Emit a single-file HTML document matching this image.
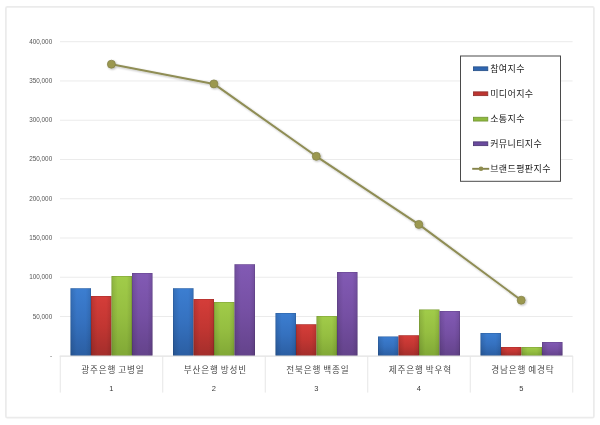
<!DOCTYPE html>
<html lang="ko"><head><meta charset="utf-8"><title>chart</title>
<style>
html,body{margin:0;padding:0;background:#fff;}
body{width:600px;height:425px;overflow:hidden;}
svg{display:block;}
text{font-family:"Liberation Sans","Noto Sans CJK KR","NanumGothic",sans-serif;}
.yl{font-size:7px;fill:#555;text-anchor:end;}
.cat{font-size:8.6px;fill:#484848;text-anchor:middle;letter-spacing:0.85px;word-spacing:-1.4px;}
.num{font-size:7.5px;fill:#3a3a3a;text-anchor:middle;}
.lg{font-size:9px;fill:#222;letter-spacing:0.38px;}
</style></head><body>
<svg width="600" height="425" viewBox="0 0 600 425">
<defs>
<linearGradient id="b" x1="0" x2="0" y1="0" y2="1"><stop offset="0" stop-color="#3c7ed1"/><stop offset="0.5" stop-color="#3571bf"/><stop offset="1" stop-color="#2b5ea2"/></linearGradient>
<linearGradient id="r" x1="0" x2="0" y1="0" y2="1"><stop offset="0" stop-color="#d53d39"/><stop offset="0.5" stop-color="#c23632"/><stop offset="1" stop-color="#a32e2b"/></linearGradient>
<linearGradient id="g" x1="0" x2="0" y1="0" y2="1"><stop offset="0" stop-color="#a1cc49"/><stop offset="0.5" stop-color="#95be41"/><stop offset="1" stop-color="#81a836"/></linearGradient>
<linearGradient id="p" x1="0" x2="0" y1="0" y2="1"><stop offset="0" stop-color="#825ab4"/><stop offset="0.5" stop-color="#7650a4"/><stop offset="1" stop-color="#64438b"/></linearGradient>
<linearGradient id="edge" x1="0" x2="1" y1="0" y2="0"><stop offset="0" stop-color="#000" stop-opacity="0.12"/><stop offset="0.3" stop-color="#000" stop-opacity="0"/><stop offset="0.75" stop-color="#000" stop-opacity="0"/><stop offset="1" stop-color="#000" stop-opacity="0.10"/></linearGradient>
<filter id="sh" x="-10%" y="-10%" width="120%" height="130%"><feGaussianBlur in="SourceAlpha" stdDeviation="1.2"/><feOffset dx="0.8" dy="1.2"/><feComponentTransfer><feFuncA type="linear" slope="0.28"/></feComponentTransfer><feMerge><feMergeNode/><feMergeNode in="SourceGraphic"/></feMerge></filter>
</defs>
<rect x="0" y="0" width="600" height="425" fill="#fff"/>
<rect x="5.9" y="6.8" width="588" height="410.9" rx="1.5" fill="#fff" stroke="#ebebeb" stroke-width="1.7"/>

<line x1="60" x2="572.6" y1="41.70" y2="41.70" stroke="#ebebeb" stroke-width="1"/>
<line x1="60" x2="572.6" y1="80.96" y2="80.96" stroke="#ebebeb" stroke-width="1"/>
<line x1="60" x2="572.6" y1="120.22" y2="120.22" stroke="#ebebeb" stroke-width="1"/>
<line x1="60" x2="572.6" y1="159.48" y2="159.48" stroke="#ebebeb" stroke-width="1"/>
<line x1="60" x2="572.6" y1="198.74" y2="198.74" stroke="#ebebeb" stroke-width="1"/>
<line x1="60" x2="572.6" y1="238.00" y2="238.00" stroke="#ebebeb" stroke-width="1"/>
<line x1="60" x2="572.6" y1="277.26" y2="277.26" stroke="#ebebeb" stroke-width="1"/>
<line x1="60" x2="572.6" y1="316.52" y2="316.52" stroke="#ebebeb" stroke-width="1"/>
<text class="yl" transform="translate(52.2,43.70) scale(0.91,1)">400,000</text>
<text class="yl" transform="translate(52.2,82.96) scale(0.91,1)">350,000</text>
<text class="yl" transform="translate(52.2,122.22) scale(0.91,1)">300,000</text>
<text class="yl" transform="translate(52.2,161.48) scale(0.91,1)">250,000</text>
<text class="yl" transform="translate(52.2,200.74) scale(0.91,1)">200,000</text>
<text class="yl" transform="translate(52.2,240.00) scale(0.91,1)">150,000</text>
<text class="yl" transform="translate(52.2,279.26) scale(0.91,1)">100,000</text>
<text class="yl" transform="translate(52.2,318.52) scale(0.91,1)">50,000</text>
<text class="yl" transform="translate(52.2,357.78) scale(0.91,1)">-</text>
<rect x="70.50" y="288.25" width="20.5" height="67.75" fill="url(#b)"/><rect x="70.80" y="288.55" width="19.90" height="67.15" fill="url(#edge)" stroke="#000" stroke-opacity="0.2" stroke-width="0.6"/>
<rect x="91.00" y="296" width="20.5" height="60.00" fill="url(#r)"/><rect x="91.30" y="296.30" width="19.90" height="59.40" fill="url(#edge)" stroke="#000" stroke-opacity="0.2" stroke-width="0.6"/>
<rect x="111.50" y="276" width="20.5" height="80.00" fill="url(#g)"/><rect x="111.80" y="276.30" width="19.90" height="79.40" fill="url(#edge)" stroke="#000" stroke-opacity="0.2" stroke-width="0.6"/>
<rect x="132.00" y="273" width="20.5" height="83.00" fill="url(#p)"/><rect x="132.30" y="273.30" width="19.90" height="82.40" fill="url(#edge)" stroke="#000" stroke-opacity="0.2" stroke-width="0.6"/>
<rect x="173.00" y="288.25" width="20.5" height="67.75" fill="url(#b)"/><rect x="173.30" y="288.55" width="19.90" height="67.15" fill="url(#edge)" stroke="#000" stroke-opacity="0.2" stroke-width="0.6"/>
<rect x="193.50" y="299" width="20.5" height="57.00" fill="url(#r)"/><rect x="193.80" y="299.30" width="19.90" height="56.40" fill="url(#edge)" stroke="#000" stroke-opacity="0.2" stroke-width="0.6"/>
<rect x="214.00" y="302" width="20.5" height="54.00" fill="url(#g)"/><rect x="214.30" y="302.30" width="19.90" height="53.40" fill="url(#edge)" stroke="#000" stroke-opacity="0.2" stroke-width="0.6"/>
<rect x="234.50" y="264.25" width="20.5" height="91.75" fill="url(#p)"/><rect x="234.80" y="264.55" width="19.90" height="91.15" fill="url(#edge)" stroke="#000" stroke-opacity="0.2" stroke-width="0.6"/>
<rect x="275.50" y="313" width="20.5" height="43.00" fill="url(#b)"/><rect x="275.80" y="313.30" width="19.90" height="42.40" fill="url(#edge)" stroke="#000" stroke-opacity="0.2" stroke-width="0.6"/>
<rect x="296.00" y="324.25" width="20.5" height="31.75" fill="url(#r)"/><rect x="296.30" y="324.55" width="19.90" height="31.15" fill="url(#edge)" stroke="#000" stroke-opacity="0.2" stroke-width="0.6"/>
<rect x="316.50" y="316" width="20.5" height="40.00" fill="url(#g)"/><rect x="316.80" y="316.30" width="19.90" height="39.40" fill="url(#edge)" stroke="#000" stroke-opacity="0.2" stroke-width="0.6"/>
<rect x="337.00" y="272" width="20.5" height="84.00" fill="url(#p)"/><rect x="337.30" y="272.30" width="19.90" height="83.40" fill="url(#edge)" stroke="#000" stroke-opacity="0.2" stroke-width="0.6"/>
<rect x="378.00" y="336.5" width="20.5" height="19.50" fill="url(#b)"/><rect x="378.30" y="336.80" width="19.90" height="18.90" fill="url(#edge)" stroke="#000" stroke-opacity="0.2" stroke-width="0.6"/>
<rect x="398.50" y="335.25" width="20.5" height="20.75" fill="url(#r)"/><rect x="398.80" y="335.55" width="19.90" height="20.15" fill="url(#edge)" stroke="#000" stroke-opacity="0.2" stroke-width="0.6"/>
<rect x="419.00" y="309.5" width="20.5" height="46.50" fill="url(#g)"/><rect x="419.30" y="309.80" width="19.90" height="45.90" fill="url(#edge)" stroke="#000" stroke-opacity="0.2" stroke-width="0.6"/>
<rect x="439.50" y="311" width="20.5" height="45.00" fill="url(#p)"/><rect x="439.80" y="311.30" width="19.90" height="44.40" fill="url(#edge)" stroke="#000" stroke-opacity="0.2" stroke-width="0.6"/>
<rect x="480.50" y="333" width="20.5" height="23.00" fill="url(#b)"/><rect x="480.80" y="333.30" width="19.90" height="22.40" fill="url(#edge)" stroke="#000" stroke-opacity="0.2" stroke-width="0.6"/>
<rect x="501.00" y="347" width="20.5" height="9.00" fill="url(#r)"/><rect x="501.30" y="347.30" width="19.90" height="8.40" fill="url(#edge)" stroke="#000" stroke-opacity="0.2" stroke-width="0.6"/>
<rect x="521.50" y="347" width="20.5" height="9.00" fill="url(#g)"/><rect x="521.80" y="347.30" width="19.90" height="8.40" fill="url(#edge)" stroke="#000" stroke-opacity="0.2" stroke-width="0.6"/>
<rect x="542.00" y="342" width="20.5" height="14.00" fill="url(#p)"/><rect x="542.30" y="342.30" width="19.90" height="13.40" fill="url(#edge)" stroke="#000" stroke-opacity="0.2" stroke-width="0.6"/>
<line x1="59.7" x2="572.8" y1="356.1" y2="356.1" stroke="#e2e2e2" stroke-width="1.1"/>
<line x1="60.25" x2="60.25" y1="356.0" y2="392.6" stroke="#e6e6e6" stroke-width="1"/>
<line x1="162.75" x2="162.75" y1="356.0" y2="392.6" stroke="#e6e6e6" stroke-width="1"/>
<line x1="265.25" x2="265.25" y1="356.0" y2="392.6" stroke="#e6e6e6" stroke-width="1"/>
<line x1="367.75" x2="367.75" y1="356.0" y2="392.6" stroke="#e6e6e6" stroke-width="1"/>
<line x1="470.25" x2="470.25" y1="356.0" y2="392.6" stroke="#e6e6e6" stroke-width="1"/>
<line x1="572.75" x2="572.75" y1="356.0" y2="392.6" stroke="#e6e6e6" stroke-width="1"/>
<text class="cat" x="112.9" y="372.9">광주은행 고병일</text>
<text class="num" x="111.3" y="391.0">1</text>
<text class="cat" x="215.4" y="372.9">부산은행 방성빈</text>
<text class="num" x="213.8" y="391.0">2</text>
<text class="cat" x="317.9" y="372.9">전북은행 백종일</text>
<text class="num" x="316.3" y="391.0">3</text>
<text class="cat" x="420.4" y="372.9">제주은행 박우혁</text>
<text class="num" x="418.8" y="391.0">4</text>
<text class="cat" x="522.9" y="372.9">경남은행 예경탁</text>
<text class="num" x="521.3" y="391.0">5</text>
<g filter="url(#sh)"><polyline points="111.4,64.2 213.9,83.9 316.3,156.3 418.8,224.4 521.2,300.2" fill="none" stroke="#8f8d54" stroke-width="2.0" stroke-linejoin="round"/>
<circle cx="111.4" cy="64.2" r="4.0" fill="#9b9850" stroke="#86844c" stroke-width="0.8"/>
<circle cx="213.9" cy="83.9" r="4.0" fill="#9b9850" stroke="#86844c" stroke-width="0.8"/>
<circle cx="316.3" cy="156.3" r="4.0" fill="#9b9850" stroke="#86844c" stroke-width="0.8"/>
<circle cx="418.8" cy="224.4" r="4.0" fill="#9b9850" stroke="#86844c" stroke-width="0.8"/>
<circle cx="521.2" cy="300.2" r="4.0" fill="#9b9850" stroke="#86844c" stroke-width="0.8"/>
</g>
<rect x="460.5" y="56" width="100" height="125.3" fill="#fff" stroke="#4a4a4a" stroke-width="1"/>
<rect x="473.4" y="66.85" width="14.4" height="3.8" fill="#2f66b0" stroke="#244e86" stroke-width="0.8"/>
<text class="lg" x="490.2" y="71.80">참여지수</text>
<rect x="473.4" y="91.85" width="14.4" height="3.8" fill="#bd3430" stroke="#8e2d2a" stroke-width="0.8"/>
<text class="lg" x="490.2" y="96.80">미디어지수</text>
<rect x="473.4" y="117.25" width="14.4" height="3.8" fill="#8fba3e" stroke="#6f9232" stroke-width="0.8"/>
<text class="lg" x="490.2" y="122.20">소통지수</text>
<rect x="473.4" y="141.85" width="14.4" height="3.8" fill="#6a4a9e" stroke="#48346f" stroke-width="0.8"/>
<text class="lg" x="490.2" y="146.80">커뮤니티지수</text>
<line x1="472.2" x2="489.2" y1="168.8" y2="168.8" stroke="#85834a" stroke-width="1.9"/><circle cx="481" cy="168.8" r="2.3" fill="#8f8d4e"/>
<text class="lg" x="490.2" y="172.20">브랜드평판지수</text>
</svg></body></html>
